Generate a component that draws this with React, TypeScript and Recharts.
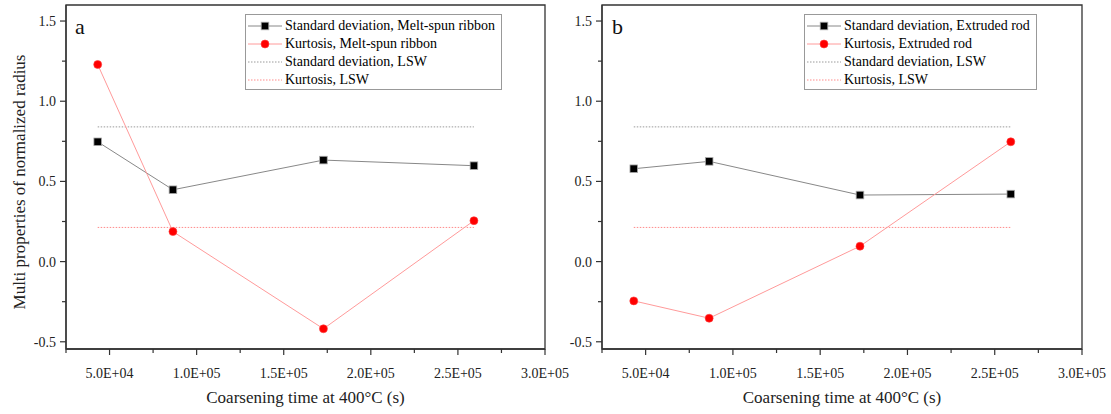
import React from 'react';
import { LineChart, Line, XAxis, YAxis, ReferenceArea, Legend, Label } from 'recharts';

const times = [43200, 86400, 172800, 259200];
const stdRibbon = [0.747, 0.448, 0.633, 0.598];
const kurtRibbon = [1.229, 0.187, -0.419, 0.255];
const stdRod = [0.579, 0.625, 0.415, 0.421];
const kurtRod = [-0.245, -0.353, 0.096, 0.747];
const lswStd = 0.84;
const lswKurt = 0.213;

const xMajorTicks = [50000, 100000, 150000, 200000, 250000, 300000];
const xTickLabels = ['5.0E+04', '1.0E+05', '1.5E+05', '2.0E+05', '2.5E+05', '3.0E+05'];
const xMinorTicks = [25000, 75000, 125000, 175000, 225000, 275000];
const yMajorTicks = [-0.5, 0, 0.5, 1, 1.5];
const yTickLabels = ['-0.5', '0.0', '0.5', '1.0', '1.5'];
const yMinorTicks = [-0.25, 0.25, 0.75, 1.25];

const X_DOMAIN: [number, number] = [25000, 300000];
const Y_DOMAIN: [number, number] = [-0.545, 1.6];

const FONT = '"Liberation Serif", "Times New Roman", serif';
const AXIS = '#333';
const STD_LINE = '#888888';
const KURT_LINE = '#ff9a9a';
const LSW_STD = '#9a9a9a';
const LSW_KURT = '#ff8a8a';

const XTick = (p: any) => {
  const { x, y, payload } = p;
  const i = xMajorTicks.indexOf(payload.value);
  const major = i >= 0;
  return (
    <g>
      <line x1={x} x2={x} y1={y} y2={y + (major ? 6 : 4)} stroke={AXIS} strokeWidth={1.2} />
      {major && (
        <text x={x} y={y + 29} textAnchor="middle" fontSize={14} fontFamily={FONT} fill="#222">
          {xTickLabels[i]}
        </text>
      )}
    </g>
  );
};

const YTick = (p: any) => {
  const { x, y, payload } = p;
  const i = yMajorTicks.indexOf(payload.value);
  const major = i >= 0;
  return (
    <g>
      <line x1={x} x2={x - (major ? 6 : 4)} y1={y} y2={y} stroke={AXIS} strokeWidth={1.2} />
      {major && (
        <text x={x - 10} y={y + 5} textAnchor="end" fontSize={14} fontFamily={FONT} fill="#222">
          {yTickLabels[i]}
        </text>
      )}
    </g>
  );
};

const SquareDot = (p: any) => {
  const { cx, cy, index } = p;
  if (cx == null || cy == null) return <g key={`s${index}`} />;
  return <rect key={`s${index}`} x={cx - 3.8} y={cy - 3.8} width={7.6} height={7.6} fill="#000" stroke="#aaa" strokeWidth={0.8} />;
};

const CircleDot = (p: any) => {
  const { cx, cy, index } = p;
  if (cx == null || cy == null) return <g key={`c${index}`} />;
  return <circle key={`c${index}`} cx={cx} cy={cy} r={4} fill="#ff0000" stroke="#ff4040" strokeWidth={0.6} />;
};

type LegendRow = { name: string; kind: 'std' | 'kurt' | 'lswStd' | 'lswKurt' };

const LegendBox = ({ rows, width }: { rows: LegendRow[]; width: number }) => (
  <div
    style={{
      border: '1px solid #999',
      background: '#fff',
      padding: '2px 4px 0 2px',
      boxSizing: 'border-box',
      width,
      fontFamily: FONT,
      fontSize: 14,
      color: '#000',
      lineHeight: '18px',
      whiteSpace: 'nowrap',
    }}
  >
    {rows.map((r) => (
      <div key={r.name + r.kind} style={{ display: 'flex', alignItems: 'center', height: 18 }}>
        <svg width={34} height={18} style={{ flex: 'none' }}>
          {r.kind === 'std' && (
            <g>
              <line x1={0} x2={34} y1={9} y2={9} stroke={STD_LINE} strokeWidth={1} />
              <rect x={13.2} y={5.2} width={7.6} height={7.6} fill="#000" stroke="#aaa" strokeWidth={0.8} />
            </g>
          )}
          {r.kind === 'kurt' && (
            <g>
              <line x1={0} x2={34} y1={9} y2={9} stroke={KURT_LINE} strokeWidth={1} />
              <circle cx={17} cy={9} r={4} fill="#ff0000" stroke="#ff4040" strokeWidth={0.6} />
            </g>
          )}
          {r.kind === 'lswStd' && <line x1={0} x2={34} y1={9} y2={9} stroke={LSW_STD} strokeWidth={1} strokeDasharray="1.5 1.5" />}
          {r.kind === 'lswKurt' && <line x1={0} x2={34} y1={9} y2={9} stroke={LSW_KURT} strokeWidth={1} strokeDasharray="1.5 1.5" />}
        </svg>
        <span style={{ marginLeft: 3 }}>{r.name}</span>
      </div>
    ))}
  </div>
);

type PanelProps = {
  letter: string;
  std: number[];
  kurt: number[];
  sample: string;
  width: number;
  yAxisWidth: number;
  marginRight: number;
  showYLabel: boolean;
  legendLeft: number;
  legendWidth: number;
  letterDx: number;
};

const Panel = (pp: PanelProps) => {
  const data = times.map((t, i) => ({
    time: t,
    std: pp.std[i],
    kurt: pp.kurt[i],
    lswStd,
    lswKurt,
  }));
  const rows: LegendRow[] = [
    { name: `Standard deviation, ${pp.sample}`, kind: 'std' },
    { name: `Kurtosis, ${pp.sample}`, kind: 'kurt' },
    { name: 'Standard deviation, LSW', kind: 'lswStd' },
    { name: 'Kurtosis, LSW', kind: 'lswKurt' },
  ];
  return (
    <LineChart
      width={pp.width}
      height={414}
      data={data}
      margin={{ top: 5, right: pp.marginRight, left: 0, bottom: 5 }}
    >
      <XAxis
        dataKey="time"
        type="number"
        domain={X_DOMAIN}
        ticks={[...xMinorTicks, ...xMajorTicks].sort((a, b) => a - b)}
        interval={0}
        tickSize={0}
        tickMargin={0}
        tickLine={false}
        tick={<XTick />}
        axisLine={{ stroke: AXIS, strokeWidth: 1.3 }}
        height={60}
        allowDataOverflow
      >
        <Label
          content={(lp: any) => {
            const vb = lp.viewBox || { x: 0, y: 0, width: 0, height: 0 };
            return (
              <text x={vb.x + vb.width / 2} y={vb.y + 54} textAnchor="middle" fontSize={17} fontFamily={FONT} fill="#222">
                Coarsening time at 400°C (s)
              </text>
            );
          }}
        />
      </XAxis>
      <YAxis
        type="number"
        domain={Y_DOMAIN}
        ticks={[...yMinorTicks, ...yMajorTicks].sort((a, b) => a - b)}
        interval={0}
        tickSize={0}
        tickMargin={0}
        tickLine={false}
        tick={<YTick />}
        axisLine={{ stroke: AXIS, strokeWidth: 1.3 }}
        width={pp.yAxisWidth}
        allowDataOverflow
      >
        {pp.showYLabel && (
          <Label
            content={(lp: any) => {
              const vb = lp.viewBox || { x: 0, y: 0, width: 0, height: 0 };
              const cx = 25;
              const cy = vb.y + vb.height / 2 + 5;
              return (
                <text
                  x={cx}
                  y={cy}
                  textAnchor="middle"
                  fontSize={17}
                  fontFamily={FONT}
                  fill="#222"
                  transform={`rotate(-90, ${cx}, ${cy})`}
                >
                  Multi properties of normalized radius
                </text>
              );
            }}
          />
        )}
      </YAxis>
      <ReferenceArea
        x1={X_DOMAIN[0]}
        x2={X_DOMAIN[1]}
        y1={Y_DOMAIN[0]}
        y2={Y_DOMAIN[1]}
        fill="none"
        fillOpacity={0}
        stroke={AXIS}
        strokeWidth={1.3}
        ifOverflow="visible"
      >
        <Label
          content={(lp: any) => {
            const vb = lp.viewBox || { x: 0, y: 0 };
            return (
              <text x={vb.x + pp.letterDx} y={vb.y + 29} fontSize={22} fontFamily={FONT} fill="#111">
                {pp.letter}
              </text>
            );
          }}
        />
      </ReferenceArea>
      <Line dataKey="lswStd" stroke={LSW_STD} strokeWidth={1} strokeDasharray="1.5 1.5" dot={false} isAnimationActive={false} />
      <Line dataKey="lswKurt" stroke={LSW_KURT} strokeWidth={1} strokeDasharray="1.5 1.5" dot={false} isAnimationActive={false} />
      <Line dataKey="std" stroke={STD_LINE} strokeWidth={1} dot={SquareDot} isAnimationActive={false} />
      <Line dataKey="kurt" stroke={KURT_LINE} strokeWidth={1} dot={CircleDot} isAnimationActive={false} />
      <Legend
        layout="horizontal"
        verticalAlign="middle"
        align="center"
        wrapperStyle={{ left: pp.legendLeft, top: 14, width: pp.legendWidth }}
        content={() => <LegendBox rows={rows} width={pp.legendWidth} />}
      />
    </LineChart>
  );
};

export default function App() {
  return (
    <div style={{ position: 'absolute', left: 0, top: 0, width: 1111, height: 414, background: '#fff' }}>
      <div style={{ position: 'absolute', left: 0, top: 0 }}>
        <Panel
          letter="a"
          std={stdRibbon}
          kurt={kurtRibbon}
          sample="Melt-spun ribbon"
          width={590}
          yAxisWidth={66}
          marginRight={45}
          showYLabel
          legendLeft={245}
          legendWidth={257}
          letterDx={9}
        />
      </div>
      <div style={{ position: 'absolute', left: 560, top: 0 }}>
        <Panel
          letter="b"
          std={stdRod}
          kurt={kurtRod}
          sample="Extruded rod"
          width={551}
          yAxisWidth={42}
          marginRight={29}
          showYLabel={false}
          legendLeft={244}
          legendWidth={233}
          letterDx={10}
        />
      </div>
    </div>
  );
}
